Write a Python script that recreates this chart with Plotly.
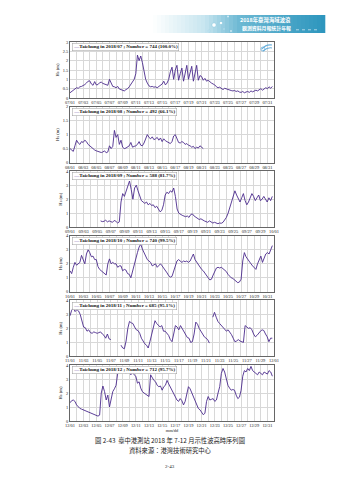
import plotly.graph_objects as go
import pandas as pd

# ---------------- data (6-hourly readings of Hs in m) ----------------
jul_start = "2018-07-01 00:00"
jul_hs = [0.28, 0.35, 0.45, 0.5, 0.55, 0.52, 0.6, 0.62, 0.65, 0.72, 0.8, 0.9,
          0.92, 0.75, 0.68, 0.88, 0.7, 0.72, 0.82, 0.85, 0.78, 0.75, 0.72, 0.68,
          1.0, 0.75, 0.62, 0.6, 0.55, 0.62, 0.48, 0.45, 0.4, 0.38, 0.45, 0.5,
          0.6, 0.75, 0.88, 1.0, 1.3, 2.3, 2.0, 2.25, 1.9, 1.5, 1.0, 0.8,
          0.65, 0.6, 0.62, 0.58, 0.6, 0.55, 0.62, 0.7, 0.75, 0.9, 0.7, 0.8,
          1.0, 1.4, 1.65, 1.0, 1.5, 1.75, 0.95, 1.3, 1.6, 0.9, 1.4, 1.75,
          1.0, 1.3, 1.7, 0.9, 1.4, 1.75, 0.95, 1.2, 1.15, 0.95, 1.05, 0.9,
          0.95, 0.85, 0.8, 0.75, 0.7, 0.6, 0.55, 0.58, 0.5, 0.45, 0.52, 0.48,
          0.45, 0.42, 0.4, 0.38, 0.4, 0.35, 0.38, 0.32, 0.3, 0.35, 0.28, 0.32,
          0.35, 0.3, 0.38, 0.33, 0.4, 0.42, 0.38, 0.45, 0.5, 0.42, 0.48, 0.55,
          0.5, 0.6, 0.52, 0.62]

aug_start = "2018-08-01 00:00"
aug_hs = [0.5, 0.45, 0.4, 0.6, 0.8, 0.7, 0.65, 0.75, 0.72, 0.8, 0.75, 0.65,
          0.6, 0.55, 0.48, 0.45, 0.42, 0.4, 0.38, 0.36, 0.38, 0.42, 0.35, 0.38,
          0.6, 0.5, 0.58, 1.15, 0.9, 1.0, 0.65, 0.8, 0.55, 0.5, 0.52, 0.55,
          0.6, 0.72, 0.55, 0.58, 0.6, 0.65, 0.75, 0.62, 0.6, 0.7, 0.85, 1.0,
          0.9, 0.85, 0.92, 0.82, 0.85, 0.9, 0.8, 0.88, 0.75, 0.85, 0.78, 0.75,
          0.7, 0.68, 0.75, 0.95, 1.0, 0.85, 0.72, 0.7, 0.75, 0.72, 0.65, 0.68,
          0.62, 0.6, 0.55, 0.58, 0.5, 0.55, 0.52, 0.6, 0.55, 0.5]

sep_start = "2018-09-05 12:00"
sep_hs = [0.45, 0.4, 0.42, 0.5, 0.38, 0.45, 0.4, 0.35, 0.48, 0.42,
          0.3, 0.38, 1.8, 2.4, 2.2, 2.6, 3.0, 3.3, 2.7, 2.0, 2.8, 3.0,
          2.6, 2.2, 1.9, 1.8, 1.7, 1.8, 1.6, 1.7, 1.55, 1.6, 1.4, 1.5,
          1.3, 1.1, 1.2, 1.6, 2.3, 2.5, 2.4, 2.6, 2.5, 2.8, 2.2, 1.3,
          1.0, 0.9, 0.85, 0.8, 0.75, 0.8, 0.7, 0.9, 0.95, 0.8, 0.7, 0.6,
          0.55, 0.6, 0.5, 0.45, 0.4, 0.35, 0.45, 0.4, 0.3, 0.35, 0.3, 0.25,
          0.3, 0.28, 0.35, 0.5, 0.7, 1.0, 1.4, 1.8, 2.2, 2.6, 2.3, 2.0,
          1.8, 2.1, 2.4, 1.9, 1.6, 1.8, 2.1, 2.4, 2.2, 1.9, 2.1, 2.3,
          1.9, 2.0, 2.2, 2.0, 1.8, 2.1, 1.9, 2.2]

oct_start = "2018-10-01 00:00"
oct_hs = [1.5, 1.3, 1.75, 2.1, 1.9, 2.0, 2.1, 2.6, 2.3, 2.0, 2.7, 3.0,
          2.8, 2.5, 2.55, 2.3, 2.3, 1.8, 1.6, 1.5, 1.4, 1.25, 1.2, 2.0,
          2.35, 2.0, 2.1, 2.0, 2.0, 1.75, 1.85, 1.85, 1.5, 1.6, 1.55, 1.3,
          1.25, 1.0, 1.5, 2.0, 2.5, 2.8, 3.2, 3.4, 3.05, 2.8, 2.55, 2.3,
          2.2, 2.1, 1.85, 1.9, 2.0, 1.75, 1.85, 2.0, 1.85, 1.7, 1.5, 1.35,
          1.15, 1.05, 1.1, 1.5, 1.8, 2.2, 2.3, 2.2, 2.1, 2.2, 2.15, 2.2,
          2.1, 2.2, 2.5, 2.7, 2.3, 2.1, 1.9, 1.7, 1.6, 1.5, 1.3, 1.15,
          1.0, 0.85, 0.9, 1.2, 1.5, 1.7, 1.75, 1.7, 1.75, 1.65, 1.6, 1.45,
          1.25, 1.1, 1.0, 0.95, 0.85, 0.75, 0.65, 0.7, 0.9, 2.2, 2.8, 2.5,
          2.3, 2.1, 2.0, 1.85, 1.75, 1.6, 2.0, 2.3, 2.55, 2.1, 2.4, 2.7,
          2.8, 2.7, 3.0, 3.3]

nov_start = "2018-11-01 00:00"
nov_hs = [2.9, 3.3, 3.45, 3.2, 3.35, 3.25, 3.0, 2.5, 2.1, 2.05, 1.8, 1.9,
          1.7, 1.65, 1.75, 1.7, 1.65, 1.7, 1.75, 1.6, 1.5, 1.3, 1.6, 1.25,
          1.2, None, None, None, None, None, 0.8, 0.6, 0.55, 1.1, 2.0, 2.5,
          2.4, 2.35, 2.1, 1.9, 1.85, 1.65, 1.3, 1.05, 0.9, 0.8, 0.6, 1.05,
          1.6, 2.0, 2.55, 2.35, 2.2, 2.1, 2.2, 1.8, 1.8, 1.65, 1.5, 1.2,
          1.05, 1.6, 2.2, 2.1, 1.9, 2.2, 2.0, 1.8, 1.6, 1.35, 1.3, 1.0,
          1.05, 1.6, 2.45, 2.3, 2.0, 1.8, 1.55, 1.4, 1.3, 1.2, 0.95, None,
          2.8, 3.15, 2.8, 2.5, 2.35, 2.2, 2.1, 1.95, 1.8, 1.9, 1.75, 1.55,
          1.3, 1.05, 1.1, 1.2, 1.1, 1.05, 1.0, 2.2, 2.1, 2.0, 2.05, 1.9,
          1.6, 1.4, 1.5, 1.7, 1.8, 1.9, 1.85, 1.6, 1.4, 1.05, 1.3, 1.3]

dec_start = "2018-12-01 00:00"
dec_hs = [1.3, 1.45, 1.5, 1.4, 1.15, 1.0, 0.9, 0.85, 0.8, 0.72, 0.65, 0.62,
          0.55, 0.5, 0.45, 0.42, 0.38, 0.35, 0.42, 2.0, 2.5, 2.1, 1.5, 1.85,
          1.0, 1.6, 2.1, 2.3, 2.55, 3.4, 3.75, 3.55, 3.5, 3.75, 3.4, 3.55,
          3.5, 3.3, 3.5, 3.3, 3.2, 2.7, 2.8, 2.35, 2.1, 2.0, 1.9, 1.85,
          1.75, 3.3, 3.05, 2.9, 2.8, 2.55, 2.45, 2.5, 2.2, 2.45, 2.55, 2.9,
          2.65, 2.4, 2.2, 1.9, 1.75, 1.5, 1.4, 1.6, 1.45, 1.15, 1.4, 2.0,
          2.45, 2.3, 2.0, 1.7, 1.5, 1.15, 0.9, 0.8, 0.6, 0.45, 0.55, 1.4,
          1.75, 1.5, 1.55, 1.6, 1.4, 1.5, 2.0, 2.45, 3.4, 3.75, 3.5, 3.05,
          2.55, 2.35, 2.2, 2.25, 2.2, 1.85, 1.6, 1.7, 2.2, 3.2, 3.6, 3.5,
          3.75, 3.6, 3.9, 3.6, 3.5, 3.4, 3.3, 3.5, 3.4, 3.3, 3.5, 3.4,
          3.35, 3.6, 3.5, 3.2]

month_labels = ["2018/07", "2018/08", "2018/09", "2018/10", "2018/11", "2018/12"]
counts = ["744 (100.0%)", "492 (66.1%)", "588 (81.7%)", "740 (99.5%)", "685 (95.1%)", "712 (95.7%)"]
range_start = ["2018-07-01", "2018-08-01", "2018-09-01", "2018-10-01", "2018-11-01", "2018-12-01"]
range_end = ["2018-08-01", "2018-09-01", "2018-10-01", "2018-11-01", "2018-12-01", "2019-01-01"]
y_max = [3, 2, 4, 4, 4, 4]
y_step = [0.5, 0.5, 1, 1, 1, 1]

series = [(jul_start, jul_hs), (aug_start, aug_hs), (sep_start, sep_hs),
          (oct_start, oct_hs), (nov_start, nov_hs), (dec_start, dec_hs)]

# ---------------- layout constants ----------------
W, H = 339, 480
LINE_COLOR = "#4b2a8c"
SERIF = "Liberation Serif, Times New Roman, serif"
CJK = "Noto Sans CJK TC, sans-serif"
x_left, x_right = 70, 274
panel_h = 56
tops = [42 + i * 64.6 for i in range(6)]


def px_x(v):
    return v / W


def px_y(v):
    return 1 - v / H


fig = go.Figure()
layout = dict(
    width=W, height=H, margin=dict(l=0, r=0, t=0, b=0),
    paper_bgcolor="white", plot_bgcolor="white", showlegend=False,
    font=dict(family=SERIF, size=5, color="#222"),
)
annotations = []
shapes = []

for i, (start, vals) in enumerate(series):
    xs = pd.date_range(start, periods=len(vals), freq="6h")
    ax = "" if i == 0 else str(i + 1)
    fig.add_trace(go.Scatter(
        x=xs, y=vals, mode="lines", connectgaps=False,
        line=dict(color=LINE_COLOR, width=0.9),
        xaxis="x" + ax, yaxis="y" + ax, hoverinfo="skip",
    ))
    top = tops[i]
    ydom = [px_y(top + panel_h), px_y(top)]
    ticks = []
    d = pd.Timestamp(range_start[i])
    while d <= pd.Timestamp(range_end[i]):
        ticks.append(d)
        d += pd.Timedelta(days=2)
    layout["xaxis" + ax] = dict(
        domain=[px_x(x_left), px_x(x_right)], anchor="y" + ax,
        range=[range_start[i], range_end[i]], type="date",
        tickvals=ticks, ticktext=[t.strftime("%m/%d") for t in ticks],
        tickangle=0, tickfont=dict(size=4.4, family=SERIF, color="#222"),
        showgrid=True, gridcolor="#d8d8d8", gridwidth=0.5,
        minor=dict(dtick=86400000, showgrid=True, gridcolor="#d8d8d8", gridwidth=0.5),
        showline=True, mirror=True, linecolor="#666", linewidth=0.6,
        ticks="", ticklen=0, zeroline=False, automargin=False,
    )
    if i == 5:
        layout["xaxis" + ax]["title"] = dict(text="mm/dd", font=dict(size=4.4, family=SERIF), standoff=1)
    nt = int(round(y_max[i] / y_step[i]))
    yt = [k * y_step[i] for k in range(nt + 1)]
    layout["yaxis" + ax] = dict(
        domain=ydom, anchor="x" + ax, range=[0, y_max[i]],
        tickvals=yt, ticktext=[("%g" % v) for v in yt],
        tickfont=dict(size=4.4, family=SERIF, color="#222"),
        showgrid=True, gridcolor="#d8d8d8", gridwidth=0.5,
        showline=True, mirror=True, linecolor="#666", linewidth=0.6,
        ticks="", zeroline=False, automargin=False,
        title=dict(text="Hs (m)", font=dict(size=4.6, family=SERIF), standoff=3),
    )
    annotations.append(dict(
        xref="paper", yref="paper", x=px_x(x_left + 2), y=px_y(top + 1.2),
        xanchor="left", yanchor="top", showarrow=False,
        text='<span style="color:%s">—</span><b>Taichung in %s ; Number = %s</b>' % (LINE_COLOR, month_labels[i], counts[i]),
        font=dict(size=5.0, family=SERIF, color="#111"),
        bgcolor="white", bordercolor="#9a9a9a", borderwidth=0.5, borderpad=0.8,
    ))

# ---------------- header banner (decoration) ----------------
b_x0, b_x1, b_y0, b_y1 = 153, 325, 15, 33
n_strips = 43
stops = [(0.0, (255, 255, 255)), (0.3, (200, 230, 240)), (0.5, (110, 185, 212)), (1.0, (45, 150, 190))]
for k in range(n_strips):
    f = (k + 0.5) / n_strips
    for j in range(len(stops) - 1):
        if stops[j][0] <= f <= stops[j + 1][0]:
            t = (f - stops[j][0]) / (stops[j + 1][0] - stops[j][0])
            c = tuple(int(stops[j][1][m] + t * (stops[j + 1][1][m] - stops[j][1][m])) for m in range(3))
            break
    xa = b_x0 + (b_x1 - b_x0) * k / n_strips
    xb = b_x0 + (b_x1 - b_x0) * (k + 1) / n_strips + 0.3
    shapes.append(dict(type="rect", xref="paper", yref="paper",
                       x0=px_x(xa), x1=px_x(xb), y0=px_y(b_y1), y1=px_y(b_y0),
                       fillcolor="rgb(%d,%d,%d)" % c, line=dict(width=0), layer="below"))
for cx, cy, r in [(214, 25, 2.2), (221, 23, 1.6), (228, 16.5, 1.0), (231, 31, 1.0), (209, 31, 0.9), (224, 29, 0.8)]:
    shapes.append(dict(type="circle", xref="paper", yref="paper",
                       x0=px_x(cx - r), x1=px_x(cx + r), y0=px_y(cy + r), y1=px_y(cy - r),
                       fillcolor="white", line=dict(color="#7fc3dc", width=0.5)))
annotations.append(dict(xref="paper", yref="paper", x=px_x(238), y=px_y(20.3), xanchor="left", yanchor="middle",
                        showarrow=False, text="<b>2018年臺灣海域波浪</b>",
                        font=dict(size=5.4, family=CJK, color="white")))
annotations.append(dict(xref="paper", yref="paper", x=px_x(240), y=px_y(28.3), xanchor="left", yanchor="middle",
                        showarrow=False, text="<b>觀測資料月報統計年報</b>",
                        font=dict(size=4.9, family=CJK, color="white")))
shapes.append(dict(type="line", xref="paper", yref="paper", x0=px_x(296), x1=px_x(318),
                   y0=px_y(29.8), y1=px_y(29.8), line=dict(color="white", width=0.6, dash="dot")))

# small logo in first panel (decoration)
shapes.append(dict(type="path", xref="paper", yref="paper",
                   path="M %f %f Q %f %f %f %f" % (px_x(262), px_y(49), px_x(266), px_y(44), px_x(272), px_y(45)),
                   line=dict(color="#6ab0dc", width=1.1)))
shapes.append(dict(type="path", xref="paper", yref="paper",
                   path="M %f %f Q %f %f %f %f" % (px_x(263), px_y(51), px_x(268), px_y(47), px_x(272), px_y(48)),
                   line=dict(color="#6ab0dc", width=1.1)))
shapes.append(dict(type="circle", xref="paper", yref="paper",
                   x0=px_x(261), x1=px_x(265), y0=px_y(51), y1=px_y(47),
                   line=dict(color="#6ab0dc", width=0.8)))

# ---------------- captions ----------------
annotations.append(dict(xref="paper", yref="paper", x=px_x(170), y=px_y(440), xanchor="center", yanchor="middle",
                        showarrow=False, text="圖 2-43  臺中港測站 2018 年 7-12 月示性波高時序列圖",
                        font=dict(size=6.3, family=CJK, color="#222")))
annotations.append(dict(xref="paper", yref="paper", x=px_x(170), y=px_y(450), xanchor="center", yanchor="middle",
                        showarrow=False, text="資料來源：港灣技術研究中心",
                        font=dict(size=6.3, family=CJK, color="#222")))
annotations.append(dict(xref="paper", yref="paper", x=px_x(170), y=px_y(466), xanchor="center", yanchor="middle",
                        showarrow=False, text="2-43",
                        font=dict(size=5.0, family=SERIF, color="#222")))

layout["annotations"] = annotations
layout["shapes"] = shapes
fig.update_layout(**layout)
fig.write_html("out.html")
